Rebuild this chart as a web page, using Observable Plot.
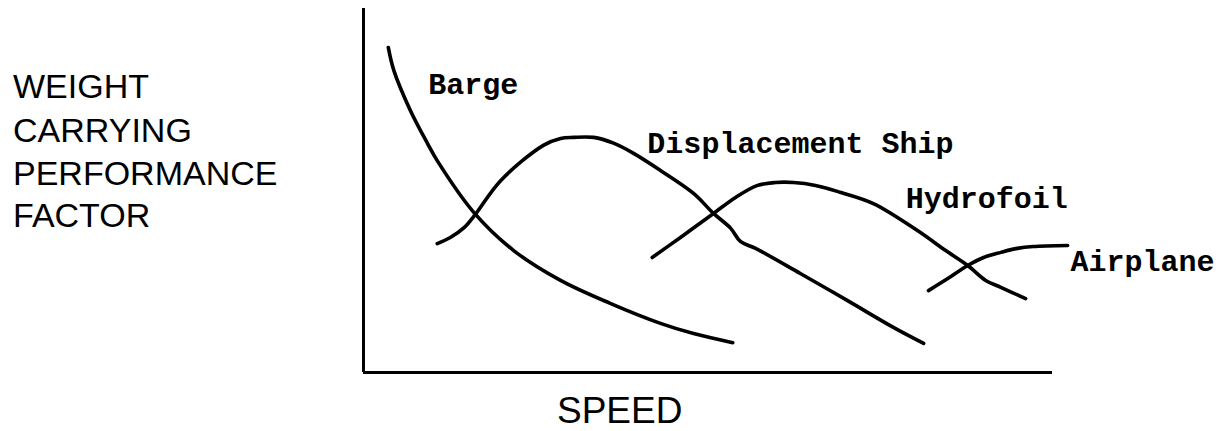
<!DOCTYPE html>
<html>
<head>
<meta charset="utf-8">
<script src="https://cdn.jsdelivr.net/npm/d3@7"></script>
<script src="https://cdn.jsdelivr.net/npm/@observablehq/plot@0.6"></script>
<style>
  html, body { margin: 0; padding: 0; background: #fff; }
  #chart { width: 1232px; height: 431px; }
</style>
</head>
<body>
<div id="chart"></div>
<script>
// Speed (x) and weight-carrying performance factor (y), arbitrary 0–100 units
const bargeX = [3.6, 4.4, 6.8, 9.3, 10.7, 16.0, 21.8, 28.6, 35.8, 43.1, 47.9, 53.6];
const bargeY = [89.3, 83.0, 72.0, 62.9, 58.2, 44.0, 33.5, 25.3, 19.0, 13.5, 10.7, 8.2];

const shipX = [10.7, 12.6, 14.6, 16.3, 19.9, 26.1, 28.6, 30.5, 33.4, 36.3, 39.2, 43.1, 47.9, 50.8, 53.3, 54.7, 56.9, 63.4, 70.2, 76.9, 81.3];
const shipY = [35.4, 37.1, 39.8, 43.6, 52.7, 62.4, 64.3, 64.6, 64.6, 63.0, 60.2, 55.5, 49.2, 43.7, 39.6, 36.0, 34.1, 27.2, 19.8, 12.4, 8.0];

const foilX = [41.9, 46.0, 50.8, 54.0, 57.2, 59.8, 62.4, 65.6, 69.2, 74.0, 80.4, 84.5, 87.7, 90.3, 92.5, 96.1];
const foilY = [31.6, 37.1, 43.7, 48.1, 51.4, 52.2, 52.2, 51.4, 49.5, 46.4, 39.0, 33.5, 29.4, 25.3, 23.4, 20.3];

const planeX = [82.0, 84.8, 87.7, 90.0, 92.5, 94.9, 97.2, 102.2];
const planeY = [22.5, 25.8, 29.4, 31.6, 33.0, 34.1, 34.6, 34.9];

const seriesNames = ["Barge", "Displacement Ship", "Hydrofoil", "Airplane"];
const labelX = [9.4, 41.2, 78.7, 102.6];
const labelY = [76.6, 60.2, 45.3, 28.0];

const yTitleLines = ["WEIGHT", "CARRYING", "PERFORMANCE", "FACTOR"];
const xTitle = "SPEED";

const toRows = (name, xs, ys) => xs.map((x, i) => ({series: name, x, y: ys[i]}));
const curves = [
  ...toRows(seriesNames[0], bargeX, bargeY),
  ...toRows(seriesNames[1], shipX, shipY),
  ...toRows(seriesNames[2], foilX, foilY),
  ...toRows(seriesNames[3], planeX, planeY)
];
const labels = seriesNames.map((name, i) => ({name, x: labelX[i], y: labelY[i]}));

const W = 1232, H = 431;
const plot = Plot.plot({
  width: W,
  height: H,
  marginLeft: 363,
  marginRight: 180,
  marginTop: 8,
  marginBottom: 59,
  x: {domain: [0, 100], axis: null},
  y: {domain: [0, 100], axis: null},
  style: {background: "#fff", overflow: "visible"},
  marks: [
    Plot.ruleX([0], {stroke: "#000", strokeWidth: 3}),
    Plot.ruleY([0], {stroke: "#000", strokeWidth: 3}),
    Plot.line(curves, {
      x: "x", y: "y", z: "series",
      stroke: "#000", strokeWidth: 3.6,
      curve: "catmull-rom",
      strokeLinecap: "round", strokeLinejoin: "round"
    }),
    Plot.text(labels, {
      x: "x", y: "y", text: "name",
      textAnchor: "start", lineAnchor: "bottom",
      fontFamily: "Liberation Mono, DejaVu Sans Mono, monospace",
      fontWeight: "bold", fontSize: 30, fill: "#000"
    })
  ]
});
document.getElementById("chart").appendChild(plot);

// Axis titles in the margins
const svg = d3.select(plot);
const baselines = [98, 142, 185, 227];
svg.append("g")
  .attr("font-family", "Liberation Sans, Arial, sans-serif")
  .attr("font-size", 34)
  .attr("text-anchor", "start")
  .attr("fill", "#000")
  .selectAll("text")
  .data(yTitleLines)
  .join("text")
  .attr("x", 13)
  .attr("y", (d, i) => baselines[i])
  .text(d => d);

svg.append("text")
  .attr("font-family", "Liberation Sans, Arial, sans-serif")
  .attr("font-size", 37)
  .attr("text-anchor", "start")
  .attr("fill", "#000")
  .attr("x", 557)
  .attr("y", 423)
  .text(xTitle);
</script>
</body>
</html>
